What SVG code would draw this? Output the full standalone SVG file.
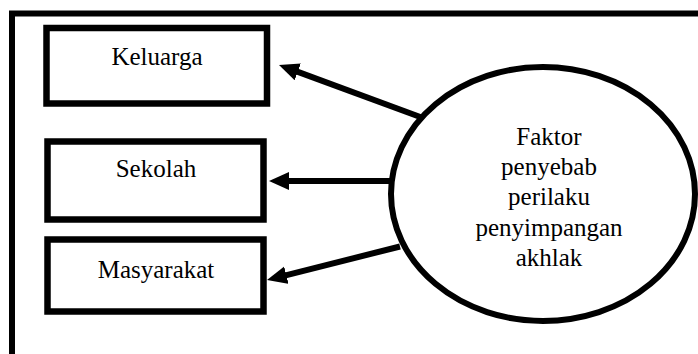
<svg xmlns="http://www.w3.org/2000/svg" width="698" height="354" viewBox="0 0 698 354">
<style>
.box{fill:#fff;stroke:#000;stroke-width:6.5}
.t{font-family:"Liberation Serif","Times New Roman",serif;font-size:25px;fill:#000;text-anchor:middle}
.c{fill:none;stroke:#000;stroke-width:6}
</style>
<defs>
<marker id="ah" markerUnits="userSpaceOnUse" markerWidth="22" markerHeight="20" refX="10" refY="9" orient="auto">
<path d="M0,0 L20,9 L0,18 z" fill="#000"/>
</marker>
</defs>
<rect width="698" height="354" fill="#fff"/>
<g id="frame"><rect x="12" y="13.5" width="720" height="380" fill="none" stroke="#000" stroke-width="6"/></g>
<g id="keluarga"><rect class="box" x="46.5" y="28" width="220.5" height="75.5"/><text class="t" x="157" y="65">Keluarga</text></g>
<g id="sekolah"><rect class="box" x="47.5" y="141.5" width="216" height="78"/><text class="t" x="156" y="177">Sekolah</text></g>
<g id="masyarakat"><rect class="box" x="47.5" y="239.5" width="216" height="72"/><text class="t" x="156" y="278">Masyarakat</text></g>
<g id="faktor"><ellipse cx="543" cy="194" rx="152" ry="127" fill="#fff" stroke="#000" stroke-width="6"/>
<text class="t"><tspan x="549" y="145">Faktor</tspan><tspan x="549" y="175">penyebab</tspan><tspan x="549" y="205">perilaku</tspan><tspan x="549" y="236">penyimpangan</tspan><tspan x="549" y="266">akhlak</tspan></text></g>
<g id="connectors">
<line class="c" x1="423" y1="118" x2="288.4" y2="68.4" marker-end="url(#ah)"/>
<line class="c" x1="390" y1="181" x2="279" y2="181" marker-end="url(#ah)"/>
<line class="c" x1="400" y1="246.5" x2="276.7" y2="277.6" marker-end="url(#ah)"/>
</g>
</svg>
